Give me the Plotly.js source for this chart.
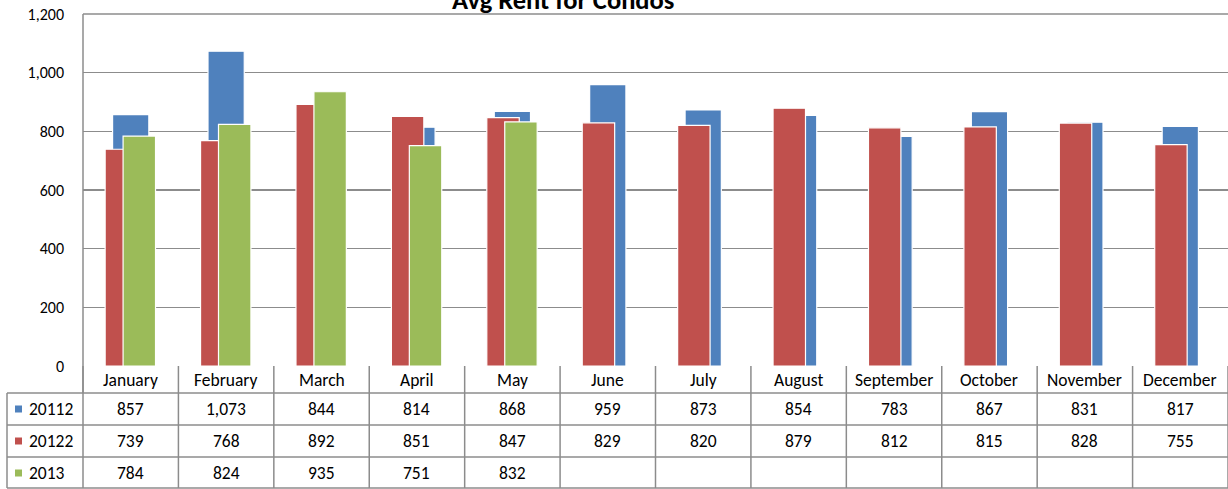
<!DOCTYPE html>
<html>
<head>
<meta charset="utf-8">
<script src="https://cdn.plot.ly/plotly-3.0.1.min.js"></script>
<style>html,body{margin:0;padding:0;background:#fff;}#chart{width:1228px;height:489px;}</style>
</head>
<body>
<div id="chart"></div>
<script>
const months = ["January","February","March","April","May","June","July","August","September","October","November","December"];
const seriesNames = ["20112","20122","2013"];
const s20112 = [857,1073,844,814,868,959,873,854,783,867,831,817];
const s20122 = [739,768,892,851,847,829,820,879,812,815,828,755];
const s2013 = [784,824,935,751,832,null,null,null,null,null,null,null];
const yTicks = [0,200,400,600,800,1000,1200];

const colors = ["#4F81BD","#C0504D","#9BBB59"];
const allSeries = [s20112, s20122, s2013];
const widths = [0.38, 0.34, 0.34];
const offsets = [-0.19, -0.268, -0.08];
const FONT = "Calibri, Carlito, Lato, 'Open Sans', sans-serif";

const traces = allSeries.map((vals, i) => ({
  type: "bar", x: months, y: vals, name: seriesNames[i],
  width: widths[i], offset: offsets[i],
  marker: {color: colors[i], line: {color: "#ffffff", width: 1.2}},
  hoverinfo: "skip"
}));

const plotTop = 14, plotBottom = 366, plotH = plotBottom - plotTop;
const left = 83, plotW = 1228 - 83;
const py = y => (plotBottom - y) / plotH;
const px = x => (x - left) / plotW;
const rowLines = [393, 425, 457, 488];
const gridC = "#8c8c8c";
const shapes = [];
const annotations = [];
const TS = 17.5;

rowLines.forEach((y) => {
  shapes.push({type:"line", xref:"paper", yref:"paper", x0: px(7), x1: 1, y0: py(y), y1: py(y), line:{color:gridC, width:1.5}});
});
for (let k = 0; k <= months.length; k++) {
  shapes.push({type:"line", xref:"paper", yref:"paper", x0: k/12, x1: k/12, y0: 0, y1: py(488), line:{color:gridC, width:1.5}});
}
shapes.push({type:"line", xref:"paper", yref:"paper", x0: px(7), x1: px(7), y0: py(393), y1: py(488), line:{color:gridC, width:1.5}});

const rowCenters = [409, 441, 473];
seriesNames.forEach((n, i) => {
  const c = rowCenters[i];
  shapes.push({type:"rect", xref:"paper", yref:"paper", x0: px(15), x1: px(22), y0: py(c-3.5), y1: py(c+3.5), fillcolor: colors[i], line:{width:0}});
  annotations.push({xref:"paper", yref:"paper", x: px(27), y: py(c), text: n, showarrow:false, xanchor:"left", yanchor:"middle", font:{family:FONT, size:TS, color:"#000"}});
});
months.forEach((m) => {
  annotations.push({xref:"x", yref:"paper", x: m, y: py(379.5), text: m, showarrow:false, xanchor:"center", yanchor:"middle", font:{family:FONT, size:TS, color:"#000"}});
});
allSeries.forEach((vals, i) => {
  vals.forEach((v, k) => {
    if (v === null) return;
    annotations.push({xref:"x", yref:"paper", x: months[k], y: py(rowCenters[i]), text: v.toLocaleString("en-US"), showarrow:false, xanchor:"center", yanchor:"middle", font:{family:FONT, size:TS, color:"#000"}});
  });
});
annotations.push({xref:"paper", yref:"paper", x: px(563), y: py(0), text: "<b>Avg Rent for Condos</b>", showarrow:false, xanchor:"center", yanchor:"middle", font:{family:FONT, size:26.5, color:"#000"}});

shapes.push({type:"line", xref:"paper", yref:"paper", x0: 0, x1: 1, y0: 1, y1: 1, line:{color:gridC, width:1.5}});
shapes.push({type:"line", xref:"paper", yref:"paper", x0: 0, x1: 0, y0: 1, y1: py(393), line:{color:gridC, width:1.5}});

const layout = {
  width: 1228, height: 489,
  margin: {l: left, r: 0, t: plotTop, b: 489 - plotBottom, pad: 0},
  paper_bgcolor: "#fff", plot_bgcolor: "#fff",
  barmode: "overlay", showlegend: false,
  font: {family: FONT, size: 16, color: "#000"},
  xaxis: {type: "category", categoryarray: months, range: [-0.5, 11.5], showticklabels: false, showgrid: false, zeroline: false, showline: false, ticks: "", fixedrange: true},
  yaxis: {range: [0, 1200], tickvals: yTicks, ticktext: yTicks.map(v => v.toLocaleString("en-US")), showgrid: true, gridcolor: gridC, gridwidth: 1.5, zeroline: false, showline: false, ticks: "", ticklabelstandoff: 18, tickfont: {family: FONT, size: 16, color: "#000"}, fixedrange: true},
  shapes: shapes, annotations: annotations
};

Plotly.newPlot("chart", traces, layout, {displayModeBar: false, staticPlot: true});
</script>
</body>
</html>
